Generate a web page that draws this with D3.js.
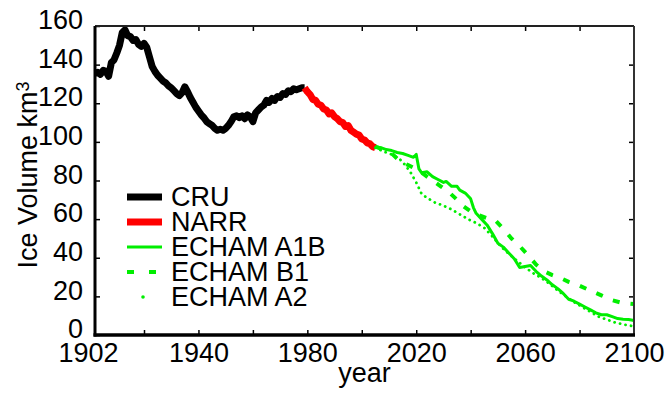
<!DOCTYPE html>
<html>
<head>
<meta charset="utf-8">
<script src="https://cdn.jsdelivr.net/npm/d3@7"></script>
<style>
  body { margin: 0; background: #fff; }
  svg text { font-family: "Liberation Sans", Arial, Helvetica, sans-serif; fill: #000; }
</style>
</head>
<body>
<div id="chart"></div>
<script>
// Ice volume data (km^3)
let cruYears = [1902,1903,1904,1905,1906,1907,1908,1909,1910,1911,1912,1913,1914,1915,1916,1917,1918,1919,1920,1921,1922,1923,1924,1925,1926,1927,1928,1929,1930,1931,1932,1933,1934,1935,1936,1937,1938,1939,1940,1941,1942,1943,1944,1945,1946,1947,1948,1949,1950,1951,1952,1953,1954,1955,1956,1957,1958,1959,1960,1961,1962,1963,1964,1965,1966,1967,1968,1969,1970,1971,1972,1973,1974,1975,1976,1977,1978,1979];
let cruValues = [135.5,136,135,137,136.5,134,141,142.5,146,150,156.5,158,155,154.5,152.5,153,150.5,149.5,151,149,144,139,136.5,134.5,133,131.5,130.5,129,128,126.5,125,124,125.5,128.5,126,123,120.5,118,116,114,112.5,110.5,109.5,108.5,107,106,106.5,106,107,108.5,110.5,113,113.5,112.5,113.5,112,114,113,110.5,115,116.5,118,119,121.5,120.5,122.5,121.5,123.5,123,125,124.5,126.5,126,127.5,127,127.5,128,128];

let narrYears = [1979,1980,1981,1982,1983,1984,1985,1986,1987,1988,1989,1990,1991,1992,1993,1994,1995,1996,1997,1998,1999,2000,2001,2002,2003,2004,2005];
let narrValues = [128,126,124.5,122,121.5,119.5,119,117,116.5,114.5,115,113,112,110.5,110,108,108.5,106,105,104,103.5,101.5,101,99.5,99,97.5,97];

let a1bYears = [2005,2007,2009,2011,2013,2015,2017,2019,2020,2021,2022,2024,2026,2028,2030,2031,2033,2035,2036,2038,2040,2041,2042,2044,2046,2048,2050,2052,2054,2056,2058,2060,2062,2064,2066,2068,2070,2072,2074,2076,2078,2080,2082,2084,2086,2088,2090,2092,2094,2096,2098,2100];
let a1bValues = [97.5,97,96,95.5,94.5,94,93,92,93.5,86,84,84.5,82,80.5,79,79.5,77,77,75,73.5,70.5,66,63,60,57,52.5,47.5,45.5,42.5,39.5,35,35.5,36,33,30.5,28.5,26,24,21.5,18.5,17.5,16,14.5,13,11.5,10.5,10.5,9.5,8.5,8.2,8,7.5];

let b1Years = [2005,2008,2011,2014,2017,2020,2023,2026,2029,2032,2035,2037,2040,2043,2046,2049,2052,2055,2058,2061,2064,2067,2070,2073,2076,2080,2084,2088,2092,2096,2100];
let b1Values = [97.5,96,94,90,88,86,83,80,77,74,70,67,64,62,60.5,59.5,55,50,46,41.5,36.5,33,31,29.5,27.5,25.5,23,20.5,18,16.5,16];

let a2Years = [2005,2008,2011,2014,2016,2018,2020,2022,2024,2027,2030,2033,2036,2039,2042,2045,2048,2051,2054,2057,2060,2063,2066,2069,2072,2075,2078,2081,2084,2087,2090,2093,2096,2100];
let a2Values = [97,95,93.5,91,88,84,79,73,71,68.5,67,65,62.5,60,58,55.5,51,46,42,38.5,35,32,29.5,26.5,23,20,17,14.5,12,9.5,8,6.5,5.5,4.5];

let xTickValues = [1920,1940,1960,1980,2000,2020,2040,2060,2080];
let xLabelValues = [1902,1940,1980,2020,2060,2100];
let yTickValues = [0,20,40,60,80,100,120,140,160];
let legendNames = ['CRU','NARR','ECHAM A1B','ECHAM B1','ECHAM A2'];

document.addEventListener('DOMContentLoaded', function() {
  let margin = { top: 26, right: 37, bottom: 61, left: 95 };
  let width = 671 - margin.left - margin.right;
  let height = 396 - margin.top - margin.bottom;

  let svg = d3.select('#chart')
    .append('svg')
    .attr('width', 671)
    .attr('height', 396)
    .append('g')
    .attr('transform', 'translate(' + margin.left + ',' + margin.top + ')');

  let xScale = d3.scaleLinear().domain([1902, 2100]).range([0, width]);
  let yScale = d3.scaleLinear().domain([0, 160]).range([height, 0]);

  let line = d3.line()
    .x(d => xScale(d[0]))
    .y(d => yScale(d[1]));

  function pairs(xs, ys) {
    return xs.map((x, i) => [x, ys[i]]);
  }

  // series
  let series = [
    { data: pairs(cruYears, cruValues), color: '#000', width: 7, dash: null },
    { data: pairs(narrYears, narrValues), color: '#ff0000', width: 7, dash: null },
    { data: pairs(b1Years, b1Values), color: '#00ee00', width: 4, dash: '7,11' },
    { data: pairs(a2Years, a2Values), color: '#00ee00', width: 2.8, dash: '0.1,5.5' },
    { data: pairs(a1bYears, a1bValues), color: '#00ee00', width: 3, dash: null }
  ];

  series.forEach(function(s) {
    svg.append('path')
      .datum(s.data)
      .attr('fill', 'none')
      .attr('stroke', s.color)
      .attr('stroke-width', s.width)
      .attr('stroke-linejoin', 'round')
      .attr('stroke-linecap', s.dash && s.dash.startsWith('0.1') ? 'round' : 'butt')
      .attr('stroke-dasharray', s.dash)
      .attr('d', line);
  });

  // bottom ticks (inward) and labels
  svg.append('g')
    .attr('transform', 'translate(0,' + height + ')')
    .call(d3.axisBottom(xScale).tickValues(xTickValues).tickSize(-5).tickSizeOuter(0).tickFormat(''))
    .call(g => g.select('.domain').remove())
    .selectAll('line').attr('stroke', '#000').attr('stroke-width', 1.5);

  svg.append('g')
    .attr('transform', 'translate(0,' + height + ')')
    .call(d3.axisBottom(xScale).tickValues(xLabelValues).tickSize(0).tickPadding(8).tickFormat(d3.format('d')))
    .call(g => g.select('.domain').remove())
    .selectAll('text')
    .style('font-size', '27px')
    .attr('dx', d => d === 1902 ? -7 : 0);

  // top ticks
  svg.append('g')
    .call(d3.axisTop(xScale).tickValues(xTickValues).tickSize(-5).tickSizeOuter(0).tickFormat(''))
    .call(g => g.select('.domain').remove())
    .selectAll('line').attr('stroke', '#000').attr('stroke-width', 1.5);

  // left axis
  svg.append('g')
    .call(d3.axisLeft(yScale).tickValues(yTickValues).tickSize(-5).tickSizeOuter(0).tickPadding(12))
    .call(g => g.select('.domain').remove())
    .call(g => g.selectAll('line').attr('stroke', '#000').attr('stroke-width', 1.5))
    .selectAll('text')
    .style('font-size', '27px')
    .attr('dy', '0.1em');

  // right ticks
  svg.append('g')
    .attr('transform', 'translate(' + width + ',0)')
    .call(d3.axisRight(yScale).tickValues(yTickValues.slice(1, -1)).tickSize(-5).tickSizeOuter(0).tickFormat(''))
    .call(g => g.select('.domain').remove())
    .selectAll('line').attr('stroke', '#000').attr('stroke-width', 1.5);

  // frame
  svg.append('line').attr('x1', 0).attr('x2', width).attr('y1', 0).attr('y2', 0)
    .attr('stroke', '#222').attr('stroke-width', 1.8);
  svg.append('line').attr('x1', width).attr('x2', width).attr('y1', 0).attr('y2', height)
    .attr('stroke', '#333').attr('stroke-width', 2);
  svg.append('line').attr('x1', 0).attr('x2', 0).attr('y1', 0).attr('y2', height + 1.5)
    .attr('stroke', '#000').attr('stroke-width', 3);
  svg.append('line').attr('x1', -1.5).attr('x2', width + 1).attr('y1', height).attr('y2', height)
    .attr('stroke', '#000').attr('stroke-width', 3.5);

  // axis titles
  svg.append('text')
    .attr('x', width / 2)
    .attr('y', height + 47)
    .attr('text-anchor', 'middle')
    .style('font-size', '27px')
    .text('year');

  let yTitle = svg.append('text')
    .attr('transform', 'translate(' + (37 - margin.left) + ',' + (175 - margin.top) + ') rotate(-90)')
    .attr('text-anchor', 'middle')
    .style('font-size', '27px');
  yTitle.append('tspan').text('Ice Volume km');
  yTitle.append('tspan').attr('dy', '-0.45em').style('font-size', '18px').text('3');

  // legend
  let legend = svg.append('g')
    .attr('transform', 'translate(' + (127 - margin.left) + ',' + (197 - margin.top) + ')');

  legendNames.forEach(function(name, i) {
    let s = [series[0], series[1], series[4], series[2], series[3]][i];
    let row = legend.append('g').attr('transform', 'translate(0,' + (i * 25) + ')');
    if (i === 4) {
      row.append('circle').attr('cx', 16).attr('cy', 0).attr('r', 1.8).attr('fill', s.color);
    } else if (i === 3) {
      row.append('line').attr('x1', 0).attr('x2', 35).attr('y1', 0).attr('y2', 0)
        .attr('stroke', s.color).attr('stroke-width', s.width).attr('stroke-dasharray', '7,15');
    } else {
      row.append('line').attr('x1', 0).attr('x2', 35).attr('y1', 0).attr('y2', 0)
        .attr('stroke', s.color).attr('stroke-width', s.width);
    }
    row.append('text')
      .attr('x', 44)
      .attr('y', 0)
      .attr('dy', '0.35em')
      .style('font-size', '27px')
      .text(name);
  });
});
</script>
</body>
</html>
